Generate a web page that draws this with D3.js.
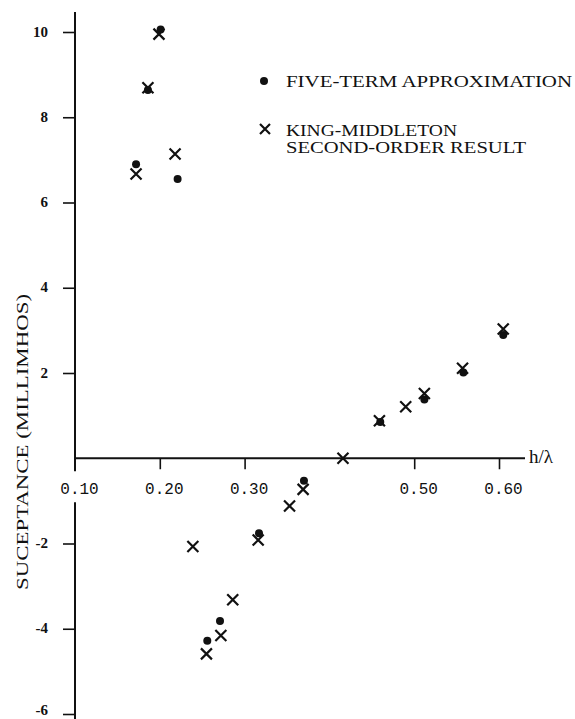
<!DOCTYPE html>
<html>
<head>
<meta charset="utf-8">
<script src="https://cdn.jsdelivr.net/npm/d3@7"></script>
<style>
  html, body { margin: 0; padding: 0; background: #fff; }
  svg { display: block; }
</style>
</head>
<body>
<div id="chart"></div>
<script>
// h/lambda and susceptance (millimhos)
const fiveTermH = [0.172, 0.186, 0.201, 0.221, 0.256, 0.271, 0.317, 0.370, 0.460, 0.512, 0.558, 0.605];
const fiveTermB = [6.90, 8.64, 10.06, 6.55, -4.28, -3.82, -1.76, -0.53, 0.85, 1.38, 2.01, 2.89];

const kingH = [0.172, 0.186, 0.199, 0.218, 0.239, 0.255, 0.272, 0.286, 0.316, 0.353, 0.369, 0.416, 0.459, 0.490, 0.512, 0.557, 0.605];
const kingB = [6.67, 8.69, 9.95, 7.14, -2.07, -4.59, -4.16, -3.32, -1.92, -1.12, -0.73, 0.0, 0.88, 1.21, 1.52, 2.11, 3.03];

const xTicks = [0.1, 0.2, 0.3, 0.5, 0.6];
const yTicks = [-6, -4, -2, 2, 4, 6, 8, 10];

const legendLabels = [
  ["FIVE-TERM APPROXIMATION"],
  ["KING-MIDDLETON", "SECOND-ORDER RESULT"],
];

const W = 575;
const H = 719;
const INK = "#111";
const DOT_R = 4;
const CROSS = 5.5;
const SERIF = "'Liberation Serif', 'DejaVu Serif', serif";
const MONO = "'Liberation Mono', 'DejaVu Sans Mono', monospace";

const x = d3.scaleLinear().domain([0.1, 0.6]).range([75, 499]);
const y = d3.scaleLinear().domain([-6, 10]).range([714, 32]);

const svg = d3
  .select("#chart")
  .append("svg")
  .attr("width", W)
  .attr("height", H)
  .attr("viewBox", [0, 0, W, H]);

svg.append("rect").attr("width", W).attr("height", H).attr("fill", "#fff");

const x0 = x(0.1);
const yZero = y(0);

// y axis line, broken around the 0.10 label
svg
  .append("line")
  .attr("x1", x0).attr("x2", x0)
  .attr("y1", 12).attr("y2", yZero + 13)
  .attr("stroke", INK).attr("stroke-width", 2);
svg
  .append("line")
  .attr("x1", x0).attr("x2", x0)
  .attr("y1", yZero + 44).attr("y2", H)
  .attr("stroke", INK).attr("stroke-width", 2);

// x axis line
svg
  .append("line")
  .attr("x1", x0).attr("x2", 525)
  .attr("y1", yZero).attr("y2", yZero)
  .attr("stroke", INK).attr("stroke-width", 2);

const gx = svg
  .append("g")
  .attr("transform", `translate(0,${yZero})`)
  .call(
    d3.axisBottom(x)
      .tickValues(xTicks)
      .tickSize(11)
      .tickFormat(d3.format(".2f"))
  );
gx.select(".domain").remove();
gx.selectAll(".tick line")
  .attr("stroke", INK)
  .attr("stroke-width", 1.6)
  .attr("opacity", (d) => (d === 0.1 ? 0 : 1));
gx.selectAll(".tick text")
  .attr("x", 4)
  .attr("y", 36)
  .attr("dy", null)
  .attr("fill", INK)
  .attr("font-family", MONO)
  .attr("font-size", 16);

const gy = svg
  .append("g")
  .attr("transform", `translate(${x0},0)`)
  .call(
    d3.axisLeft(y)
      .tickValues(yTicks)
      .tickSize(12)
      .tickFormat((d) => String(d))
  );
gy.select(".domain").remove();
gy.selectAll(".tick line").attr("stroke", INK).attr("stroke-width", 1.6);
gy.selectAll(".tick text")
  .attr("x", -27)
  // bottom label sits on the page edge; lift it a little so it isn't clipped
  .attr("dy", (d) => (d === -6 ? "0.05em" : "0.28em"))
  .attr("fill", INK)
  .attr("font-family", SERIF)
  .attr("font-weight", "bold")
  .attr("font-size", 15);

// axis titles
svg
  .append("text")
  .attr("x", 529)
  .attr("y", yZero + 5)
  .attr("font-family", SERIF)
  .attr("font-size", 19)
  .attr("fill", INK)
  .text("h/λ");

svg
  .append("text")
  .attr("transform", `translate(28,442) rotate(-90)`)
  .attr("text-anchor", "middle")
  .attr("font-family", SERIF)
  .attr("font-size", 16)
  .attr("textLength", 296)
  .attr("lengthAdjust", "spacingAndGlyphs")
  .attr("fill", INK)
  .text("SUCEPTANCE (MILLIMHOS)");

const crossPath = (cx, cy, s) =>
  `M${cx - s},${cy - s}L${cx + s},${cy + s}M${cx - s},${cy + s}L${cx + s},${cy - s}`;

// five-term approximation
svg
  .append("g")
  .selectAll("circle")
  .data(fiveTermH.map((h, i) => [h, fiveTermB[i]]))
  .join("circle")
  .attr("cx", (d) => x(d[0]))
  .attr("cy", (d) => y(d[1]))
  .attr("r", DOT_R)
  .attr("fill", INK);

// King-Middleton second-order result
svg
  .append("g")
  .selectAll("path")
  .data(kingH.map((h, i) => [h, kingB[i]]))
  .join("path")
  .attr("d", (d) => crossPath(x(d[0]), y(d[1]), CROSS))
  .attr("stroke", INK)
  .attr("stroke-width", 2.2)
  .attr("fill", "none");

// legend
const gLegend = svg.append("g");
gLegend
  .append("circle")
  .attr("cx", 264)
  .attr("cy", 81)
  .attr("r", DOT_R)
  .attr("fill", INK);
gLegend
  .append("path")
  .attr("d", crossPath(265, 129, 5))
  .attr("stroke", INK)
  .attr("stroke-width", 2.2);

const legendWidths = [[286], [171, 240]];
const legendBase = [87, 136];
legendLabels.forEach((lines, i) => {
  lines.forEach((line, j) => {
    gLegend
      .append("text")
      .attr("x", 286)
      .attr("y", legendBase[i] + j * 17)
      .attr("font-family", SERIF)
      .attr("font-size", 16)
      .attr("textLength", legendWidths[i][j])
      .attr("lengthAdjust", "spacingAndGlyphs")
      .attr("fill", INK)
      .text(line);
  });
});
</script>
</body>
</html>
